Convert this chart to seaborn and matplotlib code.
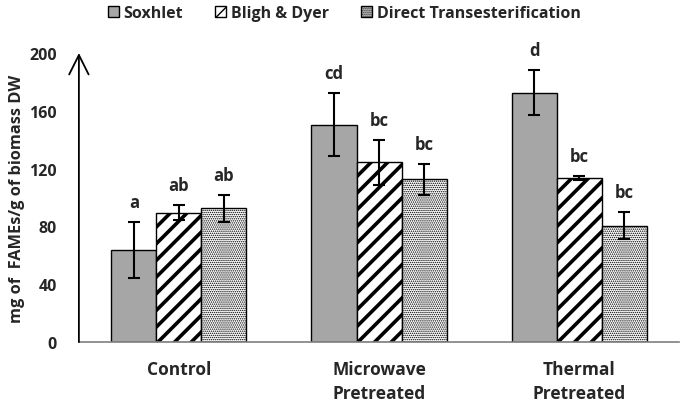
import numpy as np
import pandas as pd
import matplotlib
matplotlib.use("Agg")
import matplotlib.pyplot as plt
import seaborn as sns

# values
groups = ["Control", "Microwave\nPretreated", "Thermal\nPretreated"]
methods = ["Soxhlet", "Bligh & Dyer", "Direct Transesterification"]
soxhlet = [63.5, 150.5, 172.5]
bligh = [89.5, 124.5, 113.5]
direct = [92.5, 112.5, 80.5]
soxhlet_err = [19.5, 22.0, 15.5]
bligh_err = [5.0, 15.5, 1.5]
direct_err = [9.5, 10.5, 9.5]
soxhlet_lab = ["a", "cd", "d"]
bligh_lab = ["ab", "bc", "bc"]
direct_lab = ["ab", "bc", "bc"]

values = [soxhlet, bligh, direct]
errors = [soxhlet_err, bligh_err, direct_err]
letters = [soxhlet_lab, bligh_lab, direct_lab]

df = pd.DataFrame({
    "group": groups * 3,
    "method": [m for m in methods for _ in groups],
    "value": soxhlet + bligh + direct,
})

sns.set_style("white")
plt.rcParams["font.family"] = ["Open Sans", "DejaVu Sans"]
plt.rcParams["font.weight"] = "bold"

fig = plt.figure(figsize=(6.86, 4.06), dpi=100)
ax = fig.add_axes([0.115, 0.155, 0.875, 0.712])

sns.barplot(data=df, x="group", y="value", hue="method", order=groups,
            hue_order=methods, palette=["#a6a6a6", "white", "white"],
            edgecolor="black", linewidth=1, width=0.675, gap=0,
            errorbar=None, legend=False, ax=ax)

bar_conts = list(ax.containers)
hatches = [None, "//", "........"]
hatch_lw = [1, 2.6, 0.7]
for i, cont in enumerate(bar_conts):
    for j, bar in enumerate(cont):
        if hatches[i]:
            bar.set_hatch(hatches[i])
            if hasattr(bar, "set_hatch_linewidth"):
                bar.set_hatch_linewidth(hatch_lw[i])
        xc = bar.get_x() + bar.get_width() / 2
        ax.errorbar(xc, values[i][j], yerr=errors[i][j], color="black",
                    elinewidth=1.5, capsize=4, capthick=1.5, zorder=5)
        ax.annotate(letters[i][j], (xc, values[i][j] + errors[i][j]),
                    xytext=(0, 8), textcoords="offset points",
                    ha="center", va="bottom", fontsize=12, fontweight="bold")

ax.set_ylim(0, 200)
ax.set_xlim(-0.5, 2.5)
ax.set_yticks([0, 40, 80, 120, 160, 200])
ax.tick_params(axis="y", length=0, pad=16, labelsize=11.5)
ax.tick_params(axis="x", length=0, pad=13, labelsize=12.5)
for lab in ax.get_xticklabels():
    lab.set_fontweight("bold")
    lab.set_linespacing(1.45)
for lab in ax.get_yticklabels():
    lab.set_fontweight("bold")
ax.set_xlabel("")
ax.set_ylabel("mg of  FAMEs/g of biomass DW", fontsize=11.8,
              fontweight="bold", labelpad=3)

for s in ["top", "right", "left"]:
    ax.spines[s].set_visible(False)
ax.spines["bottom"].set_color("#7f7f7f")
ax.spines["bottom"].set_linewidth(1.2)
ax.annotate("", xy=(0, 1.0), xytext=(0, 0), xycoords="axes fraction",
            arrowprops=dict(arrowstyle="->,head_length=0.7,head_width=0.35",
                            color="black", lw=1.3, mutation_scale=20,
                            shrinkA=0, shrinkB=0),
            annotation_clip=False)

handles = [bar_conts[i][0] for i in range(3)]
fig.legend(handles, methods, loc="center", bbox_to_anchor=(0.502, 0.965),
           ncol=3, frameon=False, handlelength=0.7,
           handleheight=0.7, handletextpad=0.3, columnspacing=2.0,
           prop={"weight": "bold", "size": 11.5})

fig.savefig("out.png", dpi=100)
